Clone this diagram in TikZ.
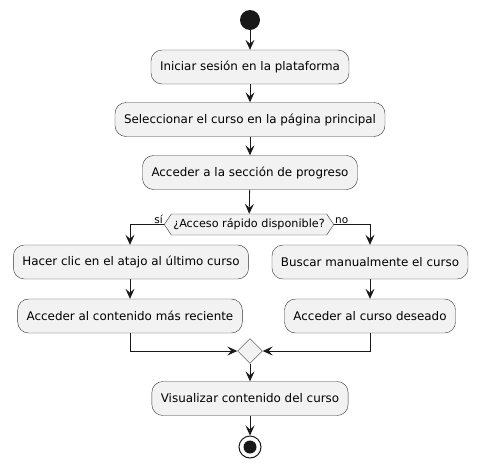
\documentclass[tikz,border=0pt]{standalone}
\usepackage{fontspec}
\setmainfont{DejaVu Sans}
\usetikzlibrary{arrows.meta,shapes.geometric,shapes.symbols}
\tikzset{
  accion/.style={draw=black!80,fill=black!5,rounded corners=11pt,minimum height=34pt,inner xsep=9pt,font=\fontsize{11.9}{14}\selectfont},
  decision/.style={draw=black!80,fill=black!5,shape=signal,signal to=west and east,signal pointer angle=112,minimum height=21pt,inner xsep=2pt,inner ysep=1pt,font=\fontsize{11.2}{13}\selectfont},
  flecha/.style={-{Stealth[length=10pt,width=9pt,inset=4pt]},line width=0.8pt,black!90},
  linea/.style={line width=0.8pt,black!90}
}
\begin{document}
\begin{tikzpicture}[x=1pt,y=-1pt]
        \useasboundingbox (0,0) rectangle (479,469);
        \node[circle,fill=black!90,minimum size=20pt,inner sep=0pt] (inicio) at (250,20) {};
        \node[accion] (sesion) at (250,67) {Iniciar sesión en la plataforma};
        \node[accion] (curso) at (250,119.5) {Seleccionar el curso en la página principal};
        \node[accion] (progreso) at (250,172.5) {Acceder a la sección de progreso};
        \node[decision] (rapido) at (249,224.5) {¿Acceso rápido disponible?};
        \node[accion] (atajo) at (131,262) {Hacer clic en el atajo al último curso};
        \node[accion] (reciente) at (130,316) {Acceder al contenido más reciente};
        \node[accion] (buscar) at (370,262) {Buscar manualmente el curso};
        \node[accion] (deseado) at (370,316) {Acceder al curso deseado};
        \node[diamond,draw=black!80,fill=black!5,minimum size=25pt,inner sep=0pt] (union) at (250,351) {};
        \node[accion] (visualizar) at (250,398.5) {Visualizar contenido del curso};
        \node[circle,draw=black!90,line width=1pt,fill=white,minimum size=22pt,inner sep=0pt] (fin) at (250,447) {};
        \node[circle,fill=black!90,minimum size=13pt,inner sep=0pt] at (fin) {};
        \draw[flecha] (inicio) -- (sesion);
        \draw[flecha] (sesion) -- (curso);
        \draw[flecha] (curso) -- (progreso);
        \draw[flecha] (progreso) -- (rapido);
        \draw[flecha] (rapido.west) -| (atajo.north -| reciente);
        \draw[flecha] (rapido.east) -| (buscar.north);
        \node[anchor=south east,inner sep=1pt,font=\fontsize{10.5}{12}\selectfont] at (rapido.west) {sí};
        \node[anchor=south west,inner sep=1pt,font=\fontsize{10.5}{12}\selectfont] at (rapido.east) {no};
        \draw[flecha] (atajo.south -| reciente) -- (reciente);
        \draw[flecha] (buscar) -- (deseado);
        \draw[flecha] (reciente.south) |- (union.west);
        \draw[flecha] (deseado.south) |- (union.east);
        \draw[flecha] (union) -- (visualizar);
        \draw[flecha] (visualizar) -- (fin);
    \end{tikzpicture}
\end{document}
